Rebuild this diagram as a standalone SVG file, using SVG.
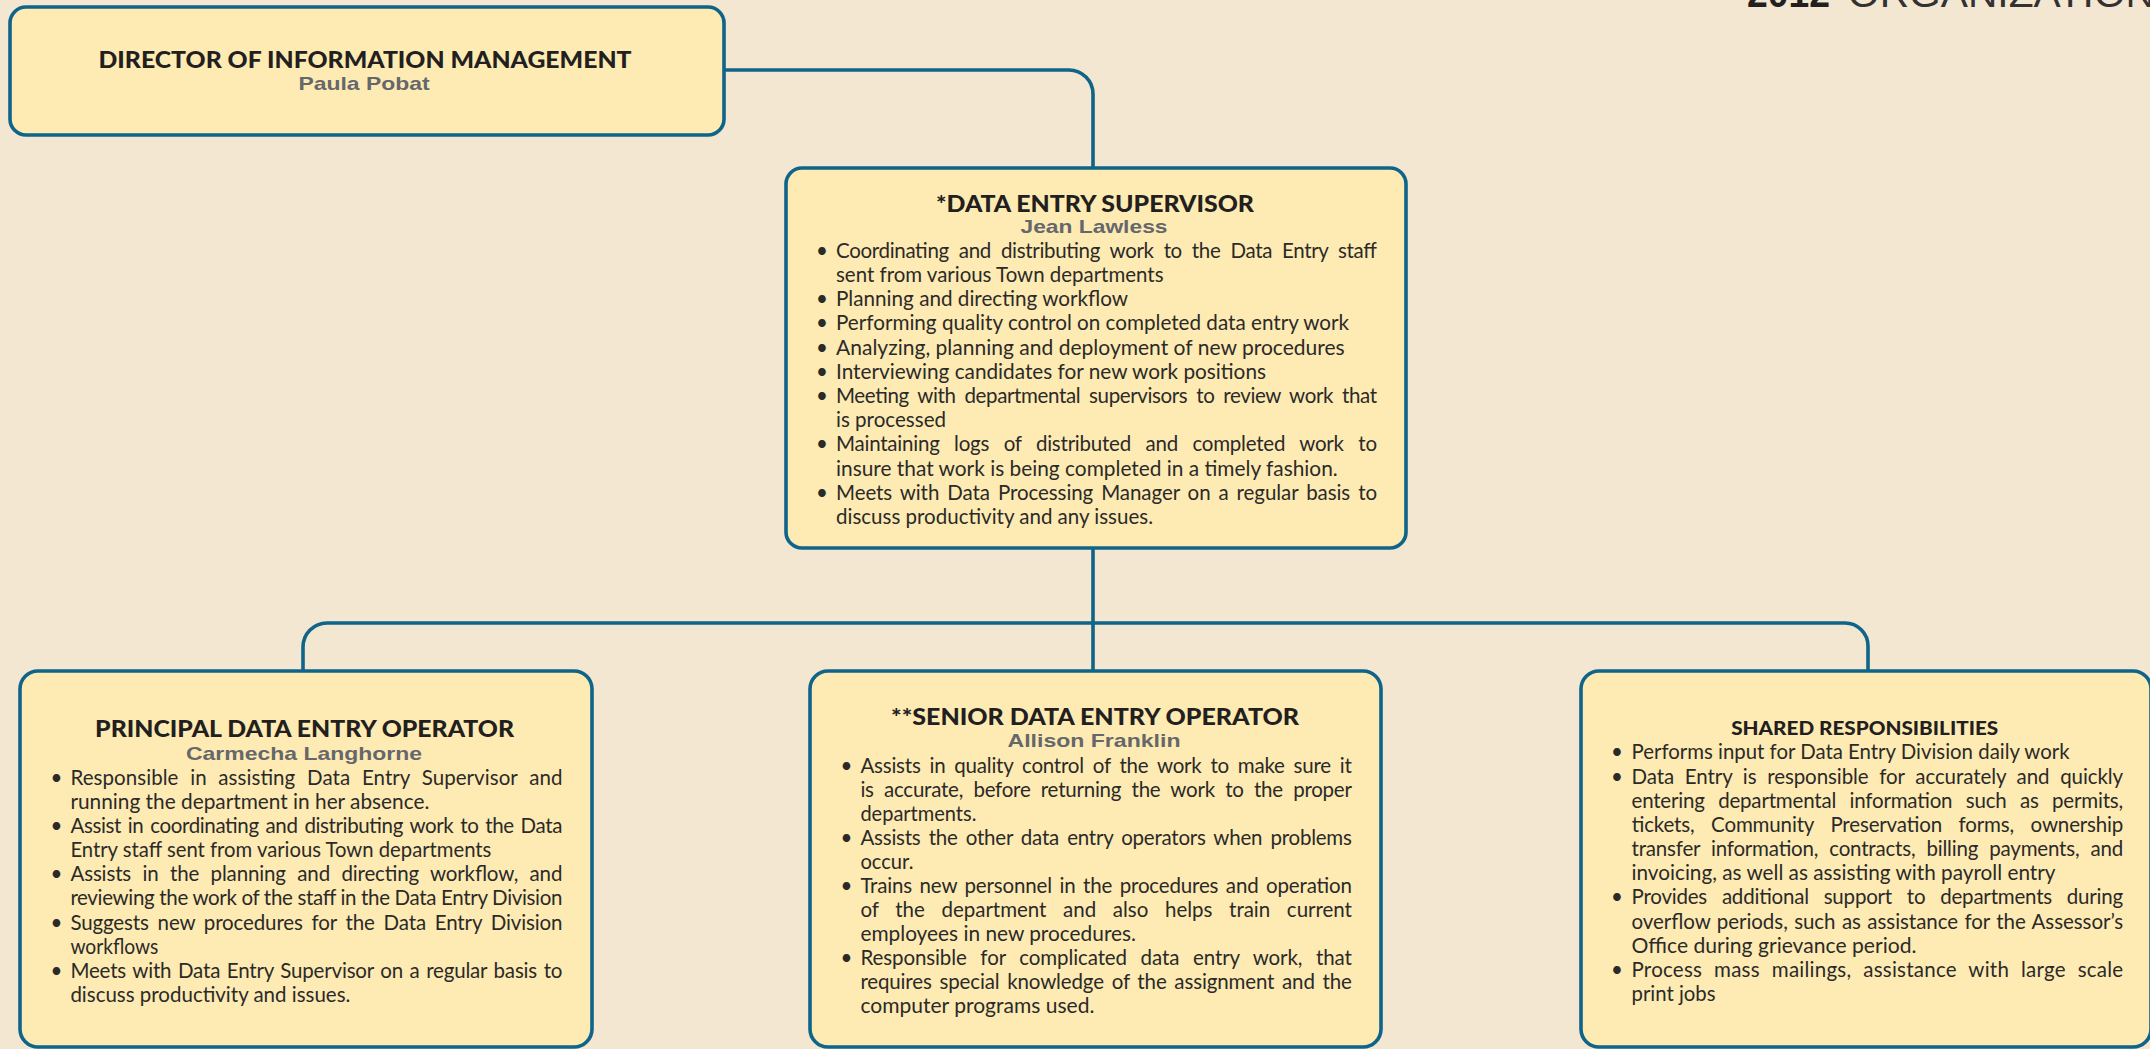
<svg xmlns="http://www.w3.org/2000/svg" width="2150" height="1049" viewBox="0 0 2150 1049">
<style>
.bg{fill:#f4e7d2}
.box{fill:#feebb3;stroke:#0f6489;stroke-width:3.6}
.conn{fill:none;stroke:#0f6489;stroke-width:3.6}
.ttl{font-family:Lato,"Liberation Sans",Arial,sans-serif;font-weight:900;font-size:23.5px;fill:#231f20;text-anchor:middle}
.ttl2{font-family:Lato,"Liberation Sans",Arial,sans-serif;font-weight:900;font-size:19px;fill:#231f20;text-anchor:middle}
.nm{font-family:"Liberation Sans",Arial,sans-serif;font-weight:bold;font-size:19px;fill:#65676b;text-anchor:middle}
.b{font-family:Lato,"Liberation Sans",sans-serif;font-size:20.5px;fill:#2b2a29}
.bl{font-family:Lato,"Liberation Sans",sans-serif;font-size:20.5px;fill:#2b2a29;text-anchor:middle}
.hd{font-family:"Liberation Sans",Arial,sans-serif;font-size:39px;fill:#333132}
</style>
<rect class="bg" x="0" y="0" width="2150" height="1049"/>

<g id="header">
<text class="hd" y="7"><tspan x="1747" font-weight="bold" fill="#231f20" textLength="83" lengthAdjust="spacingAndGlyphs">2012</tspan><tspan x="1848" textLength="307" lengthAdjust="spacingAndGlyphs">ORGANIZATION</tspan></text>
</g>

<g id="connectors">
<path class="conn" d="M724,70 H1069 A24,24 0 0 1 1093,94 V168"/>
<path class="conn" d="M1093,548 V671"/>
<path class="conn" d="M303,671 V647 A24,24 0 0 1 327,623 H1845 A23,23 0 0 1 1868,646 V671"/>
</g>

<g id="director">
<rect class="box" x="10" y="7" width="714" height="128" rx="16"/>
<text class="ttl" x="365" y="68.3" textLength="533" lengthAdjust="spacingAndGlyphs">DIRECTOR OF INFORMATION MANAGEMENT</text>
<text class="nm" x="364" y="90" textLength="131" lengthAdjust="spacingAndGlyphs">Paula Pobat</text>
</g>

<g id="supervisor">
<rect class="box" x="786" y="168" width="620" height="380" rx="16"/>
<text class="ttl" x="1095" y="211.7" textLength="318" lengthAdjust="spacingAndGlyphs">*DATA ENTRY SUPERVISOR</text>
<text class="nm" x="1094" y="233" textLength="147" lengthAdjust="spacingAndGlyphs">Jean Lawless</text>
<text class="bl" x="822" y="257.7">•</text>
<text class="b" x="836" y="257.7" word-spacing="5" textLength="541" lengthAdjust="spacing">Coordinating and distributing work to the Data Entry staff</text>
<text class="b" x="836" y="281.9" textLength="327.5" lengthAdjust="spacingAndGlyphs">sent from various Town departments</text>
<text class="bl" x="822" y="306.1">•</text>
<text class="b" x="836" y="306.1" textLength="292" lengthAdjust="spacingAndGlyphs">Planning and directing workflow</text>
<text class="bl" x="822" y="330.3">•</text>
<text class="b" x="836" y="330.3" textLength="513" lengthAdjust="spacingAndGlyphs">Performing quality control on completed data entry work</text>
<text class="bl" x="822" y="354.5">•</text>
<text class="b" x="836" y="354.5" textLength="508.7" lengthAdjust="spacingAndGlyphs">Analyzing, planning and deployment of new procedures</text>
<text class="bl" x="822" y="378.7">•</text>
<text class="b" x="836" y="378.7" textLength="430" lengthAdjust="spacingAndGlyphs">Interviewing candidates for new work positions</text>
<text class="bl" x="822" y="402.9">•</text>
<text class="b" x="836" y="402.9" word-spacing="4" textLength="541" lengthAdjust="spacing">Meeting with departmental supervisors to review work that</text>
<text class="b" x="836" y="427.1" textLength="110" lengthAdjust="spacingAndGlyphs">is processed</text>
<text class="bl" x="822" y="451.3">•</text>
<text class="b" x="836" y="451.3" word-spacing="9.5" textLength="541" lengthAdjust="spacing">Maintaining logs of distributed and completed work to</text>
<text class="b" x="836" y="475.5" textLength="501.7" lengthAdjust="spacingAndGlyphs">insure that work is being completed in a timely fashion.</text>
<text class="bl" x="822" y="499.7">•</text>
<text class="b" x="836" y="499.7" word-spacing="2.8" textLength="541" lengthAdjust="spacing">Meets with Data Processing Manager on a regular basis to</text>
<text class="b" x="836" y="523.9" textLength="317" lengthAdjust="spacingAndGlyphs">discuss productivity and any issues.</text>
</g>

<g id="principal">
<rect class="box" x="20" y="671" width="572" height="376" rx="18"/>
<text class="ttl" x="304.6" y="737.3" textLength="419" lengthAdjust="spacingAndGlyphs">PRINCIPAL DATA ENTRY OPERATOR</text>
<text class="nm" x="304" y="760" textLength="236" lengthAdjust="spacingAndGlyphs">Carmecha Langhorne</text>
<text class="bl" x="56.5" y="785">•</text>
<text class="b" x="70.4" y="785" word-spacing="6.4" textLength="492" lengthAdjust="spacing">Responsible in assisting Data Entry Supervisor and</text>
<text class="b" x="70.4" y="809.1" textLength="359" lengthAdjust="spacingAndGlyphs">running the department in her absence.</text>
<text class="bl" x="56.5" y="833.2">•</text>
<text class="b" x="70.4" y="833.2" word-spacing="2" textLength="492" lengthAdjust="spacing">Assist in coordinating and distributing work to the Data</text>
<text class="b" x="70.4" y="857.2" textLength="421" lengthAdjust="spacingAndGlyphs">Entry staff sent from various Town departments</text>
<text class="bl" x="56.5" y="881.3">•</text>
<text class="b" x="70.4" y="881.3" word-spacing="6.3" textLength="492" lengthAdjust="spacing">Assists in the planning and directing workflow, and</text>
<text class="b" x="70.4" y="905.4" textLength="492" lengthAdjust="spacing">reviewing the work of the staff in the Data Entry Division</text>
<text class="bl" x="56.5" y="929.5">•</text>
<text class="b" x="70.4" y="929.5" word-spacing="3.7" textLength="492" lengthAdjust="spacing">Suggests new procedures for the Data Entry Division</text>
<text class="b" x="70.4" y="953.6" textLength="88" lengthAdjust="spacingAndGlyphs">workflows</text>
<text class="bl" x="56.5" y="977.6">•</text>
<text class="b" x="70.4" y="977.6" word-spacing="1.5" textLength="492" lengthAdjust="spacing">Meets with Data Entry Supervisor on a regular basis to</text>
<text class="b" x="70.4" y="1001.7" textLength="280" lengthAdjust="spacingAndGlyphs">discuss productivity and issues.</text>
</g>

<g id="senior">
<rect class="box" x="810" y="671" width="571" height="376" rx="18"/>
<text class="ttl" x="1095" y="725" textLength="408" lengthAdjust="spacingAndGlyphs">**SENIOR DATA ENTRY OPERATOR</text>
<text class="nm" x="1094" y="747.3" textLength="173" lengthAdjust="spacingAndGlyphs">Allison Franklin</text>
<text class="bl" x="846.5" y="772.7">•</text>
<text class="b" x="860.4" y="772.7" word-spacing="3.9" textLength="491.5" lengthAdjust="spacing">Assists in quality control of the work to make sure it</text>
<text class="b" x="860.4" y="796.8" word-spacing="5.3" textLength="491.5" lengthAdjust="spacing">is accurate, before returning the work to the proper</text>
<text class="b" x="860.4" y="820.8" textLength="116" lengthAdjust="spacingAndGlyphs">departments.</text>
<text class="bl" x="846.5" y="844.9">•</text>
<text class="b" x="860.4" y="844.9" word-spacing="3.1" textLength="491.5" lengthAdjust="spacing">Assists the other data entry operators when problems</text>
<text class="b" x="860.4" y="868.9" textLength="53" lengthAdjust="spacingAndGlyphs">occur.</text>
<text class="bl" x="846.5" y="893">•</text>
<text class="b" x="860.4" y="893" word-spacing="2.5" textLength="491.5" lengthAdjust="spacing">Trains new personnel in the procedures and operation</text>
<text class="b" x="860.4" y="917.1" word-spacing="11.5" textLength="491.5" lengthAdjust="spacing">of the department and also helps train current</text>
<text class="b" x="860.4" y="941.1" textLength="275.6" lengthAdjust="spacingAndGlyphs">employees in new procedures.</text>
<text class="bl" x="846.5" y="965.2">•</text>
<text class="b" x="860.4" y="965.2" word-spacing="8.5" textLength="491.5" lengthAdjust="spacing">Responsible for complicated data entry work, that</text>
<text class="b" x="860.4" y="989.2" word-spacing="2.7" textLength="491.5" lengthAdjust="spacing">requires special knowledge of the assignment and the</text>
<text class="b" x="860.4" y="1013.3" textLength="234" lengthAdjust="spacingAndGlyphs">computer programs used.</text>
</g>

<g id="shared">
<rect class="box" x="1581" y="671" width="570" height="376" rx="18"/>
<text class="ttl2" x="1864.7" y="735" textLength="267" lengthAdjust="spacingAndGlyphs">SHARED RESPONSIBILITIES</text>
<text class="bl" x="1617" y="759.3">•</text>
<text class="b" x="1631.5" y="759.3" textLength="438" lengthAdjust="spacingAndGlyphs">Performs input for Data Entry Division daily work</text>
<text class="bl" x="1617" y="783.5">•</text>
<text class="b" x="1631.5" y="783.5" word-spacing="5.5" textLength="491.7" lengthAdjust="spacing">Data Entry is responsible for accurately and quickly</text>
<text class="b" x="1631.5" y="807.6" word-spacing="8.3" textLength="491.7" lengthAdjust="spacing">entering departmental information such as permits,</text>
<text class="b" x="1631.5" y="831.8" word-spacing="11.5" textLength="491.7" lengthAdjust="spacing">tickets, Community Preservation forms, ownership</text>
<text class="b" x="1631.5" y="856" word-spacing="6" textLength="491.7" lengthAdjust="spacing">transfer information, contracts, billing payments, and</text>
<text class="b" x="1631.5" y="880.2" textLength="424" lengthAdjust="spacingAndGlyphs">invoicing, as well as assisting with payroll entry</text>
<text class="bl" x="1617" y="904.3">•</text>
<text class="b" x="1631.5" y="904.3" word-spacing="9.8" textLength="491.7" lengthAdjust="spacing">Provides additional support to departments during</text>
<text class="b" x="1631.5" y="928.5" word-spacing="1.2" textLength="491.7" lengthAdjust="spacing">overflow periods, such as assistance for the Assessor’s</text>
<text class="b" x="1631.5" y="952.7" textLength="285" lengthAdjust="spacingAndGlyphs">Office during grievance period.</text>
<text class="bl" x="1617" y="976.8">•</text>
<text class="b" x="1631.5" y="976.8" word-spacing="6.4" textLength="491.7" lengthAdjust="spacing">Process mass mailings, assistance with large scale</text>
<text class="b" x="1631.5" y="1001" textLength="84" lengthAdjust="spacingAndGlyphs">print jobs</text>
</g>
</svg>
